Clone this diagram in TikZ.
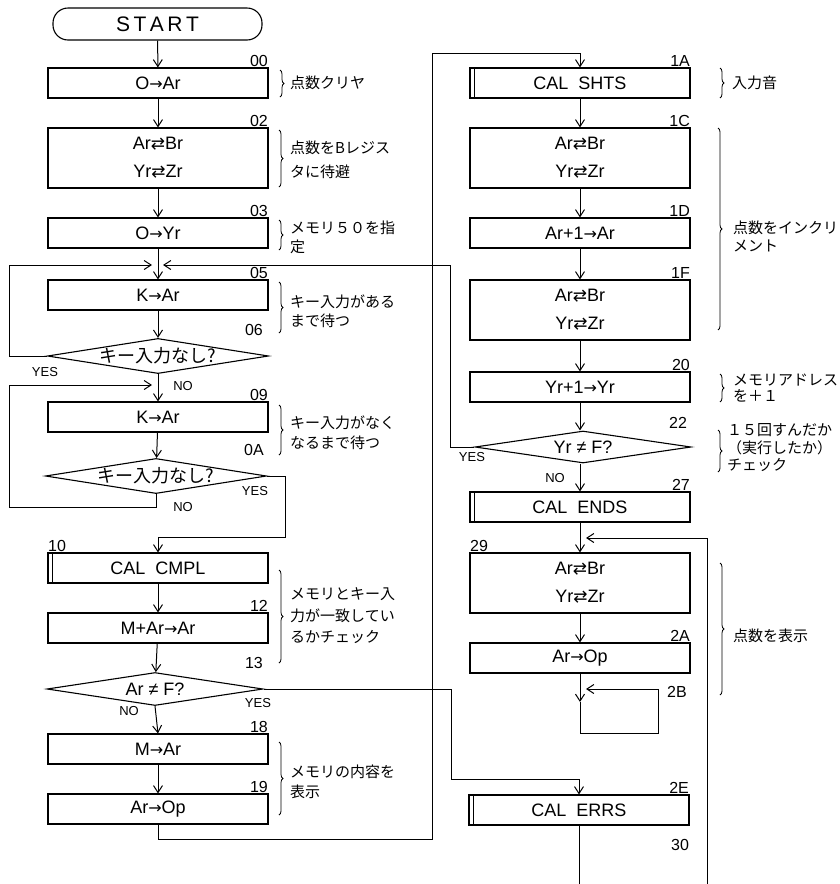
\documentclass[tikz,border=0pt]{standalone}
\usepackage{fontspec}
\setmainfont{Liberation Sans}
\newfontfamily\jp{Noto Sans CJK JP}
\newfontfamily\symf{DejaVu Sans}
\usetikzlibrary{shapes.geometric,arrows.meta,decorations.pathreplacing}
\newcommand\xch{{\symf\fontsize{17}{17}\selectfont ⇄}}
\newcommand\rarr{{\symf\fontsize{16}{16}\selectfont →}}
\tikzset{
  proc/.style={draw, line width=1.1pt, minimum width=220pt, minimum height=30pt, inner sep=0pt,
    font=\fontsize{18}{28}\selectfont, align=center},
  proc2/.style={proc, minimum height=60pt},
  term/.style={draw, line width=1.1pt, rounded corners=15pt, minimum width=209pt, minimum height=32pt,
    inner sep=0pt, font=\fontsize{21}{21}\selectfont},
  dec/.style={diamond, draw, line width=1.1pt, aspect=6.3, minimum width=216pt, minimum height=33pt,
    inner sep=0pt, font=\fontsize{18}{18}\selectfont},
  flow/.style={line width=1pt, -{Straight Barb[length=7pt,width=9pt]}},
  conn/.style={line width=1pt},
  lab/.style={font=\fontsize{16}{16}\selectfont, inner sep=0.5pt},
  yn/.style={font=\fontsize{13}{13}\selectfont, inner sep=0pt},
  note/.style={font=\jp\fontsize{15}{20}\selectfont, align=left, anchor=west, inner sep=0pt},
  brc/.style={decorate, decoration={brace, amplitude=4pt}, line width=0.8pt}
}
\begin{document}
\begin{tikzpicture}[x=1pt, y=-1pt]
\useasboundingbox[fill=white] (0,0) rectangle (840,884);

% ---------- left column ----------
\node[term] (start) at (157.5,24) {S\,T\,A\,R\,T};
\node[proc] (b00) at (158,83) {O\rarr Ar};
\node[proc2] (b02) at (158,158) {Ar\xch Br\\Yr\xch Zr};
\node[proc] (b03) at (158,233) {O\rarr Yr};
\coordinate (m1) at (158,265);
\node[proc] (b05) at (158,295) {K\rarr Ar};
\node[dec] (d1) at (158,356) {\jp キー入力なし?};
\coordinate (m2) at (158,385);
\node[proc] (b09) at (158,417) {K\rarr Ar};
\node[dec, minimum height=30pt] (d2) at (156,476) {\jp キー入力なし?};
\node[proc] (b10) at (158,568) {CAL\ \ CMPL};
\node[proc] (b12) at (158,628) {M+Ar\rarr Ar};
\node[dec] (d3) at (155,689) {Ar ≠ F?};
\node[proc] (b18) at (158,749) {M\rarr Ar};
\node[proc] (b19) at (158,809) {Ar\rarr Op};

% ---------- right column ----------
\node[proc] (b1A) at (580,83) {CAL\ \ SHTS};
\node[proc2] (b1C) at (580,158) {Ar\xch Br\\Yr\xch Zr};
\node[proc] (b1D) at (580,233) {Ar+1\rarr Ar};
\node[proc2] (b1F) at (580,310) {Ar\xch Br\\Yr\xch Zr};
\node[proc] (b20) at (580,387) {Yr+1\rarr Yr};
\node[dec, minimum height=32pt] (d4) at (583,447) {Yr ≠ F?};
\node[proc] (b27) at (580,507) {CAL\ \ ENDS};
\coordinate (m3) at (580,538);
\node[proc, minimum height=60pt] (b29) at (580,583) {Ar\xch Br\\Yr\xch Zr};
\node[proc] (b2A) at (580,658) {Ar\rarr Op};
\coordinate (m4) at (580,689);
\coordinate (k1) at (580,702);
\coordinate (k2) at (580,733);
\node[proc] (b2E) at (579,810) {CAL\ \ ERRS};
\coordinate (endA) at (579,884);
\coordinate (endB) at (707,884);

% double bars of subroutine calls
\foreach \n in {b10,b1A,b27,b2E}
  \draw[line width=1pt] ([xshift=5pt]\n.north west) -- ([xshift=5pt]\n.south west);

% ---------- step numbers ----------
\node[lab, anchor=south east] at (b00.north east) {00};
\node[lab, anchor=south east] at (b02.north east) {02};
\node[lab, anchor=south east] at (b03.north east) {03};
\node[lab, anchor=south east] at (b05.north east) {05};
\node[lab] at (254,330) {06};
\node[lab, anchor=south east] at (b09.north east) {09};
\node[lab] at (254,450) {0A};
\node[lab, anchor=south west] at (b10.north west) {10};
\node[lab, anchor=south east] at (b12.north east) {12};
\node[lab] at (254,663) {13};
\node[lab, anchor=south east] at (b18.north east) {18};
\node[lab, anchor=south east] at (b19.north east) {19};
\node[lab, anchor=south east] at (b1A.north east) {1A};
\node[lab, anchor=south east] at (b1C.north east) {1C};
\node[lab, anchor=south east] at (b1D.north east) {1D};
\node[lab, anchor=south east] at (b1F.north east) {1F};
\node[lab, anchor=south east] at (b20.north east) {20};
\node[lab] at (678,423) {22};
\node[lab, anchor=south east] at (b27.north east) {27};
\node[lab, anchor=south west] at (b29.north west) {29};
\node[lab, anchor=south east] at (b2A.north east) {2A};
\node[lab] at (677,692) {2B};
\node[lab, anchor=south east] at (b2E.north east) {2E};
\node[lab] at (680,845) {30};

% ---------- YES / NO ----------
\node[yn] at (45,372) {YES};
\node[yn] at (183,386) {NO};
\node[yn] at (255,491) {YES};
\node[yn] at (183,507) {NO};
\node[yn] at (258,703) {YES};
\node[yn] at (129,711) {NO};
\node[yn] at (472,457) {YES};
\node[yn] at (555,478) {NO};

% ---------- connectors ----------
\draw[flow] (start) -- (b00);
\draw[flow] (b00) -- (b02);
\draw[flow] (b02) -- (b03);
\draw[flow] (b03) -- (b05);
\draw[flow] (b05) -- (d1);
\draw[flow] (d1.west) -- (9,356) -- (9,265) -- (152,265);
\draw[flow] (d1) -- (b09);
\draw[flow] (b09) -- (d2);
\draw[flow] (d2.south) -- (156,507) -- (9,507) -- (9,385) -- (152,385);
\draw[flow] (d2.east) -- (285,476) -- (285,537) -- (158,537) -- (b10.north);
\draw[flow] (b10) -- (b12);
\draw[flow] (b12) -- (d3);
\draw[flow] (d3.south) -- (b18.north);
\draw[flow] (b18) -- (b19);
\draw[flow] (b19.south) -- (158,839) -- (432,839) -- (432,53) -- (580,53) -- (b1A.north);
\draw[flow] (d3.east) -- (451,689) -- (451,779) -- (579,779) -- (b2E.north);

\draw[flow] (b1A) -- (b1C);
\draw[flow] (b1C) -- (b1D);
\draw[flow] (b1D) -- (b1F);
\draw[flow] (b1F) -- (b20);
\draw[flow] (b20) -- (b20.south |- d4.north);
\draw[flow] (d4.west) -- (450,447) -- (450,265) -- (163,265);
\draw[flow] (d4.south -| b27.north) -- (b27.north);
\draw[flow] (b27) -- (b29);
\draw[flow] (endB) -- (707,538) -- (586,538);
\draw[flow] (b29) -- (b2A);
\draw[flow] (b2A.south) -- (k1);
\draw[conn] (k1) -- (k2);
\draw[flow] (k2) -- (658,733) -- (658,689) -- (586,689);
\draw[conn] (b2E.south) -- (endA);

% ---------- braces and notes ----------
\draw[brc] (280,70) -- (280,97);
\node[note] at (290,83) {点数クリヤ};
\draw[brc] (279,130) -- (279,187);
\node[note, font=\jp\fontsize{15}{24}\selectfont] at (290,160) {点数をBレジス\\タに待避};
\draw[brc] (279,220) -- (279,250);
\node[note, font=\jp\fontsize{15}{19}\selectfont] at (290,237) {メモリ５０を指\\定};
\draw[brc] (279,282) -- (279,333);
\node[note, font=\jp\fontsize{15}{19}\selectfont] at (290,311) {キー入力がある\\まで待つ};
\draw[brc] (279,405) -- (279,455);
\node[note, font=\jp\fontsize{15}{20}\selectfont] at (290,433) {キー入力がなく\\なるまで待つ};
\draw[brc] (279,570) -- (279,663);
\node[note, font=\jp\fontsize{15}{21.5}\selectfont] at (290,616) {メモリとキー入\\力が一致してい\\るかチェック};
\draw[brc] (279,742) -- (279,815);
\node[note, font=\jp\fontsize{15}{20}\selectfont] at (290,782) {メモリの内容を\\表示};

\draw[brc] (720,68) -- (720,98);
\node[note] at (732,83) {入力音};
\draw[brc] (718,128) -- (718,330);
\node[note, font=\jp\fontsize{15}{18}\selectfont] at (733,236) {点数をインクリ\\メント};
\draw[brc] (720,374) -- (720,402);
\node[note, font=\jp\fontsize{15}{16.5}\selectfont] at (733,388) {メモリアドレス\\を＋１};
\draw[brc] (718,430) -- (718,472);
\node[note, font=\jp\fontsize{15}{17.5}\selectfont] at (727,448) {１５回すんだか\\（実行したか）\\チェック};
\draw[brc] (720,563) -- (720,695);
\node[note] at (733,636) {点数を表示};
\end{tikzpicture}
\end{document}
